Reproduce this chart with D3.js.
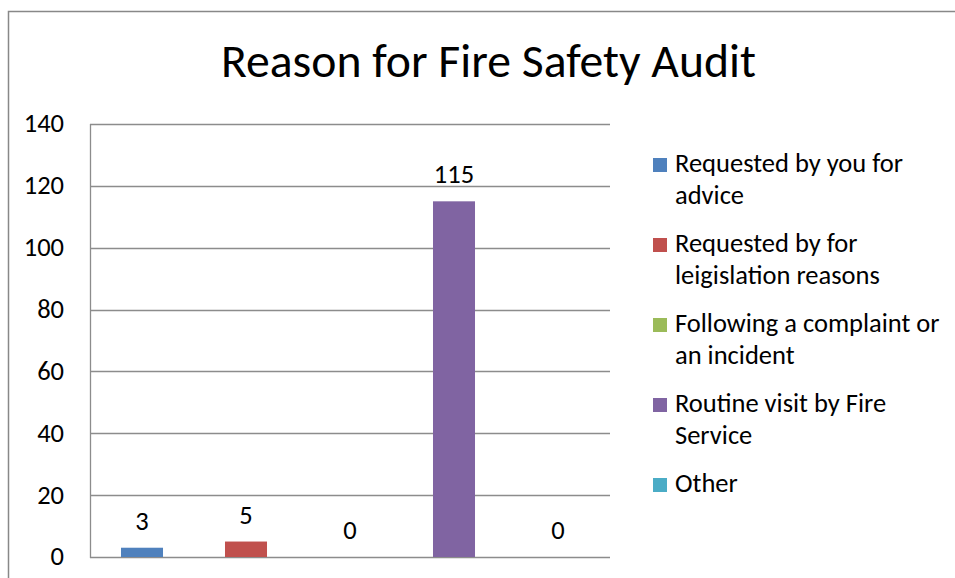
<!DOCTYPE html>
<html>
<head>
<meta charset="utf-8">
<script src="https://cdn.jsdelivr.net/npm/d3@7"></script>
<style>
  html, body { margin: 0; padding: 0; background: #fff; }
  svg { display: block; }
  text { font-family: Carlito, Calibri, Lato, "Open Sans", sans-serif; fill: #000; }
</style>
</head>
<body>
<svg id="chart" width="955" height="578"></svg>
<script>
// Audit reasons (one bar per reason) and their counts
const categories = [
  "Requested by you for advice",
  "Requested by for leigislation reasons",
  "Following a complaint or an incident",
  "Routine visit by Fire Service",
  "Other"
];
const values = [3, 5, 0, 115, 0];
const colors = ["#4f81bd", "#c0504d", "#9bbb59", "#8064a2", "#4bacc6"];
const legendLines = [
  ["Requested by you for", "advice"],
  ["Requested by for", "leigislation reasons"],
  ["Following a complaint or", "an incident"],
  ["Routine visit by Fire", "Service"],
  ["Other"]
];
const yTicks = [0, 20, 40, 60, 80, 100, 120, 140];
const title = "Reason for Fire Safety Audit";

const svg = d3.select("#chart");
const plot = { left: 90, right: 610, top: 124, bottom: 557 };

// Outer chart frame (open at right and bottom edges of the window)
svg.append("rect")
  .attr("x", 8.5).attr("y", 11.5)
  .attr("width", 1000).attr("height", 1000)
  .attr("fill", "none").attr("stroke", "#888").attr("stroke-width", 1.5);

svg.append("text")
  .attr("x", 488.5).attr("y", 77)
  .attr("text-anchor", "middle")
  .style("font-size", "47.7px")
  .text(title);

const x = d3.scaleBand().domain(categories).range([plot.left, plot.right]).paddingInner(0.596).paddingOuter(0.298);
const y = d3.scaleLinear().domain([0, 140]).range([plot.bottom, plot.top]);

// Horizontal gridlines
svg.append("g").selectAll("line").data(yTicks).join("line")
  .attr("x1", plot.left).attr("x2", plot.right)
  .attr("y1", d => Math.round(y(d)) + 0.5).attr("y2", d => Math.round(y(d)) + 0.5)
  .attr("stroke", "#8c8c8c").attr("stroke-width", 1.3);

// Left axis line
svg.append("line")
  .attr("x1", plot.left + 0.5).attr("x2", plot.left + 0.5)
  .attr("y1", plot.top).attr("y2", plot.bottom + 1)
  .attr("stroke", "#8c8c8c").attr("stroke-width", 1.3);

// Y tick labels
svg.append("g").selectAll("text").data(yTicks).join("text")
  .attr("x", 64).attr("y", d => y(d))
  .attr("dy", "0.32em")
  .attr("text-anchor", "end")
  .style("font-size", "26.5px")
  .text(d => d);

// Bars
svg.append("g").selectAll("rect").data(values).join("rect")
  .attr("x", (d, i) => x(categories[i]))
  .attr("width", x.bandwidth())
  .attr("y", d => y(d))
  .attr("height", d => y(0) - y(d))
  .attr("fill", (d, i) => colors[i]);

// Value labels
svg.append("g").selectAll("text").data(values).join("text")
  .attr("x", (d, i) => x(categories[i]) + x.bandwidth() / 2)
  .attr("y", d => y(d) - 18)
  .attr("text-anchor", "middle")
  .style("font-size", "26.5px")
  .text(d => d);

// Legend
const legend = svg.append("g").selectAll("g").data(legendLines).join("g")
  .attr("transform", (d, i) => `translate(653, ${172 + i * 80})`);
legend.append("rect")
  .attr("x", 0).attr("y", -14).attr("width", 14).attr("height", 14)
  .attr("fill", (d, i) => colors[i]);
legend.append("text")
  .style("font-size", "26.5px")
  .selectAll("tspan").data(d => d).join("tspan")
  .attr("x", 22).attr("y", (d, j) => j * 31.5)
  .text(d => d);
</script>
</body>
</html>
